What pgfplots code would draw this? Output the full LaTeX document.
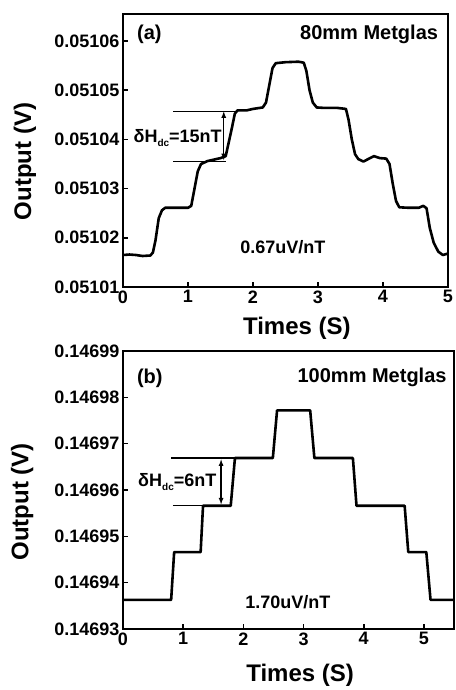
\documentclass[border=0pt]{standalone}
\usepackage{fontspec}
\setmainfont{Liberation Sans}
\usepackage{pgfplots}
\pgfplotsset{compat=1.18}

\newcommand{\tl}{\fontsize{18}{20}\selectfont\bfseries}
\newcommand{\dc}{\raisebox{-0.45ex}{\fontsize{10}{10}\selectfont dc}}

\pgfplotsset{
  panel/.style={
    scale only axis,
    axis line style={line width=2.4pt},
    tick align=inside,
    xtick pos=bottom, ytick pos=left,
    major tick length=5pt,
    every tick/.style={line width=1.6pt, black},
    tick label style={font=\tl},
    scaled y ticks=false, scaled x ticks=false,
    xtick={0,1,2,3,4,5},
    xticklabels={0,1,2,3,4,5},
    label style={font=\fontsize{24}{26}\selectfont\bfseries},
    clip=false,
  },
}

\begin{document}
\begin{tikzpicture}[x=1pt,y=1pt]
\useasboundingbox (0,0) rectangle (455,690);

% panel (a)
\begin{axis}[panel,
    at={(123pt,403pt)}, anchor=south west,
    width=325pt, height=273pt,
    xmin=0, xmax=5, ymin=0.05101, ymax=0.0510655,
    ytick={0.05101,0.05102,0.05103,0.05104,0.05105,0.05106},
    yticklabels={0.05101,0.05102,0.05103,0.05104,0.05105,0.05106},
    xlabel={Times (S)}, ylabel={Output (V)},
    xlabel style={at={(axis description cs:0.535,-0.15)}, anchor=center},
    ylabel style={at={(axis description cs:-0.302,0.46)}, anchor=center, rotate=0},
]
\addplot[black, line width=2.6pt, line join=round] coordinates {
 (0,0.0510165) (0.1,0.0510166) (0.2,0.0510165) (0.3,0.0510163) (0.42,0.0510164)
 (0.46,0.051017) (0.5,0.0510195) (0.55,0.051024) (0.6,0.0510256) (0.65,0.0510261)
 (0.8,0.0510261) (1.0,0.0510261) (1.05,0.0510265) (1.1,0.051030) (1.15,0.0510335)
 (1.2,0.051035) (1.3,0.0510356) (1.5,0.0510362) (1.58,0.0510366) (1.62,0.051039)
 (1.67,0.051042) (1.72,0.0510452) (1.76,0.0510459) (1.9,0.0510459) (2.0,0.0510462)
 (2.15,0.0510465) (2.2,0.0510475) (2.25,0.051051) (2.3,0.0510545) (2.35,0.0510555)
 (2.5,0.0510557) (2.7,0.0510558) (2.78,0.0510556) (2.82,0.051054) (2.87,0.05105)
 (2.92,0.0510475) (2.98,0.0510465) (3.1,0.0510464) (3.3,0.0510464) (3.43,0.0510462)
 (3.47,0.051044) (3.52,0.05104) (3.57,0.051037) (3.62,0.051036) (3.7,0.0510355)
 (3.8,0.0510362) (3.86,0.0510366) (3.95,0.0510362) (4.05,0.0510361) (4.1,0.051035)
 (4.15,0.051031) (4.2,0.0510275) (4.25,0.0510262) (4.4,0.0510261) (4.55,0.0510261)
 (4.62,0.0510265) (4.67,0.051026) (4.72,0.051022) (4.78,0.051019) (4.85,0.0510172)
 (4.92,0.0510165) (5.0,0.0510168)
};
\draw[line width=1.2pt] (axis cs:0.77,0.0510457) -- (axis cs:1.74,0.0510457);
\draw[line width=1.2pt] (axis cs:0.77,0.0510355) -- (axis cs:1.59,0.0510355);
\draw[line width=1.2pt, <->, >=latex] (axis cs:1.55,0.0510457) -- (axis cs:1.55,0.0510358);
\node[anchor=west, font=\tl, inner sep=0pt] at (axis cs:0.16,0.0510403) {δH\dc=15nT};
\node[anchor=west, font=\fontsize{20}{22}\selectfont\bfseries, inner sep=0pt] at (axis cs:0.215,0.0510613) {(a)};
\node[anchor=east, font=\fontsize{20}{22}\selectfont\bfseries, inner sep=0pt] at (axis cs:4.85,0.0510613) {80mm Metglas};
\node[font=\tl, inner sep=0pt] at (axis cs:2.46,0.0510181) {0.67uV/nT};
\end{axis}

% panel (b)
\begin{axis}[panel,
    at={(123pt,61pt)}, anchor=south west,
    width=331pt, height=278pt,
    xmin=0, xmax=5.5, ymin=0.14693, ymax=0.14699,
    ytick={0.14693,0.14694,0.14695,0.14696,0.14697,0.14698,0.14699},
    yticklabels={0.14693,0.14694,0.14695,0.14696,0.14697,0.14698,0.14699},
    xlabel={Times (S)}, ylabel={Output (V)},
    xlabel style={at={(axis description cs:0.535,-0.165)}, anchor=center},
    ylabel style={at={(axis description cs:-0.305,0.457)}, anchor=center, rotate=0},
]
\addplot[black, line width=2.6pt, line join=round] coordinates {
 (0,0.1469363) (0.80,0.1469363) (0.85,0.1469466) (1.29,0.1469466) (1.33,0.1469566)
 (1.79,0.1469566) (1.86,0.1469669) (2.49,0.1469669) (2.56,0.1469772) (3.11,0.1469772)
 (3.18,0.1469669) (3.82,0.1469669) (3.88,0.1469566) (4.68,0.1469566) (4.74,0.1469466)
 (5.04,0.1469466) (5.11,0.1469363) (5.5,0.1469363)
};
\draw[line width=1.2pt] (axis cs:0.80,0.1469669) -- (axis cs:1.86,0.1469669);
\draw[line width=1.2pt] (axis cs:0.83,0.1469566) -- (axis cs:1.33,0.1469566);
\draw[line width=1.2pt, <->, >=latex] (axis cs:1.63,0.1469666) -- (axis cs:1.63,0.1469569);
\node[anchor=west, font=\tl, inner sep=0pt] at (axis cs:0.25,0.1469617) {δH\dc=6nT};
\node[anchor=west, font=\fontsize{20}{22}\selectfont\bfseries, inner sep=0pt] at (axis cs:0.23,0.1469842) {(b)};
\node[anchor=east, font=\fontsize{20}{22}\selectfont\bfseries, inner sep=0pt] at (axis cs:5.38,0.1469842) {100mm Metglas};
\node[font=\tl, inner sep=0pt] at (axis cs:2.74,0.1469358) {1.70uV/nT};
\end{axis}
\end{tikzpicture}
\end{document}
